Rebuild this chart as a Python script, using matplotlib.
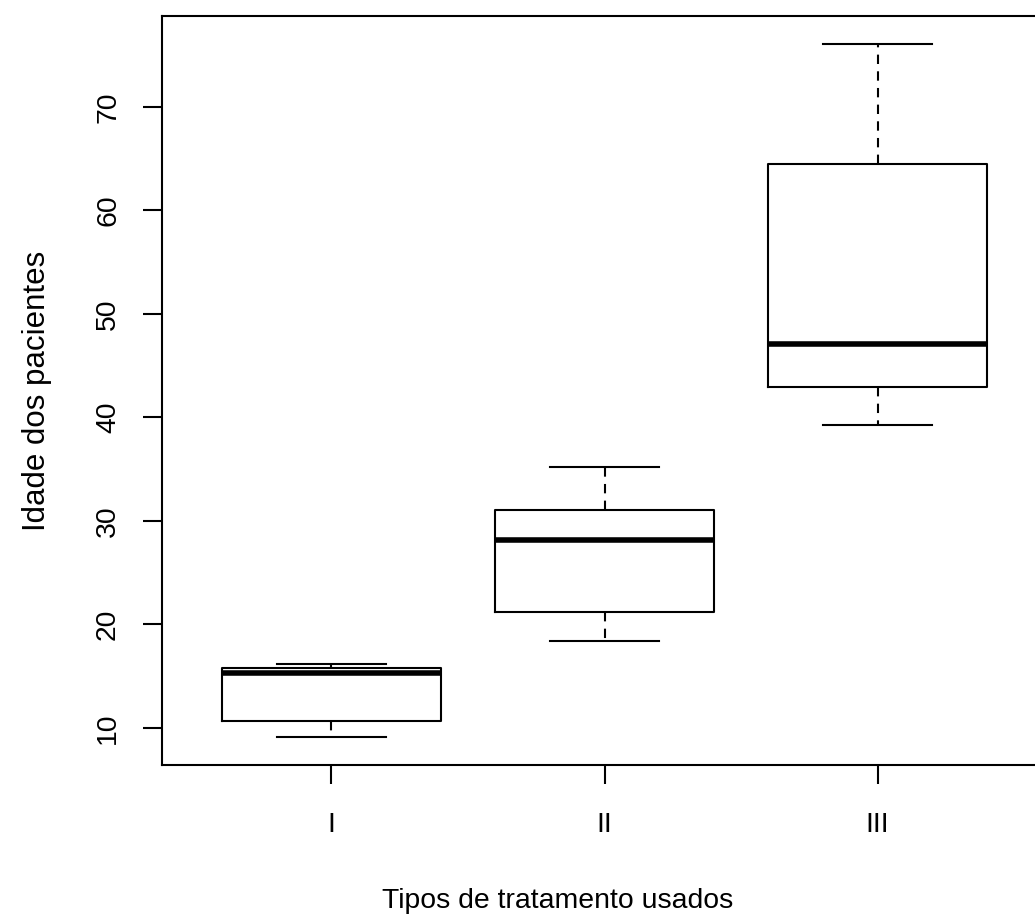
import matplotlib
matplotlib.use("Agg")
import matplotlib.pyplot as plt

# ------------------------------------------------------
# Dados (idade por tipo de tratamento)
# ------------------------------------------------------
tratamentos = ["I", "II", "III"]
minimo = [9.1, 18.4, 39.3]
q1 = [10.7, 21.2, 42.9]
mediana = [15.3, 28.2, 47.1]
q3 = [15.8, 31.1, 64.5]
maximo = [16.2, 35.2, 76.1]

plt.rcParams["font.family"] = ["Liberation Sans", "DejaVu Sans"]

stats = []
for i, nome in enumerate(tratamentos):
    stats.append({
        "label": nome,
        "whislo": minimo[i],
        "q1": q1[i],
        "med": mediana[i],
        "q3": q3[i],
        "whishi": maximo[i],
        "fliers": [],
    })

fig = plt.figure(figsize=(10.35, 9.19), dpi=100)
ax = fig.add_axes([162 / 1035, 1 - 765 / 919, 885 / 1035, 749 / 919])

ax.bxp(
    stats,
    positions=[1, 2, 3],
    widths=0.8,
    showfliers=False,
    boxprops=dict(color="black", linewidth=1.5),
    medianprops=dict(color="black", linewidth=4.0, solid_capstyle="butt"),
    whiskerprops=dict(color="black", linewidth=1.5, linestyle=(0, (4.5, 3.5))),
    capprops=dict(color="black", linewidth=1.5),
    capwidths=0.4,
)

# limites estilo R (faixa + 4%)
ymin, ymax = min(minimo), max(maximo)
ext = (ymax - ymin) * 0.04
ax.set_ylim(ymin - ext, ymax + ext)
ax.set_xlim(0.38, 3.62)

ax.set_yticks([10, 20, 30, 40, 50, 60, 70])
ax.set_yticklabels(["10", "20", "30", "40", "50", "60", "70"], rotation=90, va="center")
ax.set_xticks([1, 2, 3])
ax.set_xticklabels(tratamentos)

ax.tick_params(axis="both", length=13.5, width=1.5, labelsize=20.4, color="black")
ax.tick_params(axis="y", pad=16)
ax.tick_params(axis="x", pad=20)

for s in ax.spines.values():
    s.set_linewidth(1.5)

ax.set_xlabel("Tipos de tratamento usados", fontsize=20.4, labelpad=36)
ax.xaxis.label.set_x((558 - 162) / 885)
ax.set_ylabel("Idade dos pacientes", fontsize=22.5, labelpad=31)

fig.savefig("out.png", dpi=100)
